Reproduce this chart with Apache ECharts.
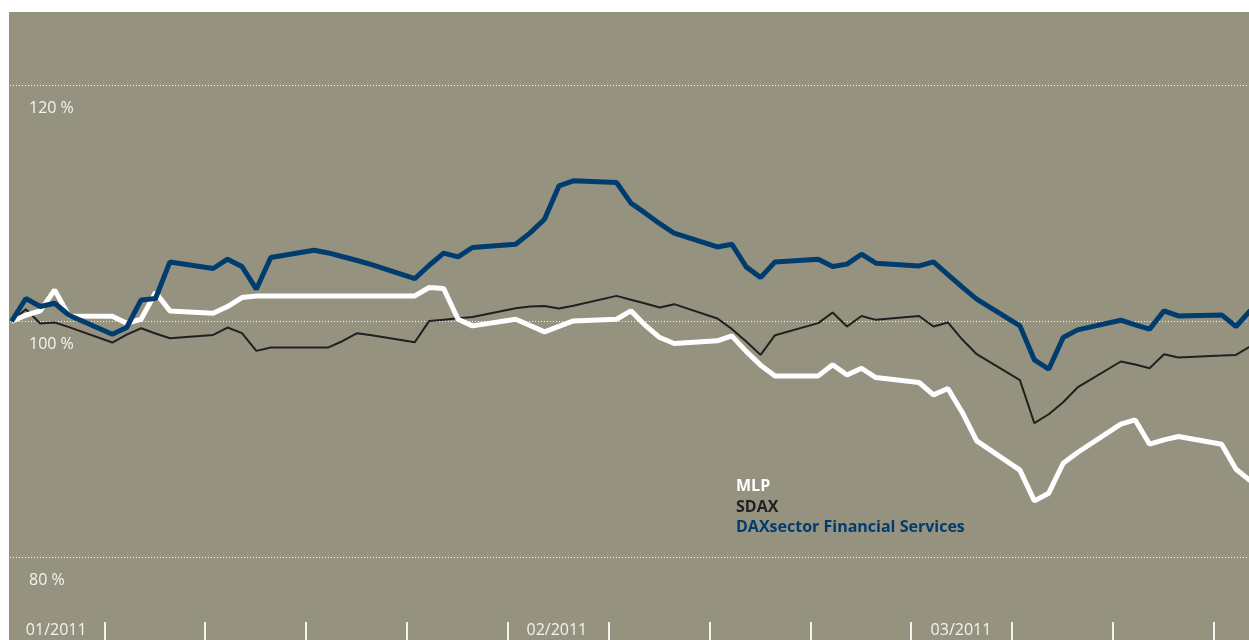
<!DOCTYPE html>
<html>
<head>
<meta charset="utf-8">
<title>MLP vs SDAX vs DAXsector Financial Services</title>
<script src="https://cdn.jsdelivr.net/npm/echarts@6/dist/echarts.min.js"></script>
<style>
  html, body { margin: 0; padding: 0; background: #ffffff; }
  #main { position: absolute; left: 9px; top: 12px; width: 1240px; height: 628px; background: #969280; }
</style>
</head>
<body>
<div id="main"></div>
<script>
// trading days, counted from 1 Jan 2011 = 1 (27 Dec 2010 = -4)
var tradingDays = [
  -4, -3, -2, -1, 0,
  3, 4, 5, 6, 7, 10, 11, 12, 13, 14, 17, 18, 19, 20, 21, 24, 25, 26, 27, 28, 31,
  32, 33, 34, 35, 38, 39, 40, 41, 42, 45, 46, 47, 48, 49, 52, 53, 54, 55, 56, 59,
  60, 61, 62, 63, 66, 67, 68, 69, 70, 73, 74, 75, 76, 77, 80, 81, 82
];

var mlp = [
  100, 100.53, 100.90, 102.68, 100.47,
  100.45, 99.86, 100.19, 102.46, 100.90, 100.70, 101.27, 102.03, 102.17, 102.17,
  102.17, 102.17, 102.17, 102.17, 102.17, 102.17, 102.88, 102.80, 100.19, 99.63, 100.19,
  99.66, 99.12, 99.58, 100.05, 100.19, 100.90, 99.67, 98.64, 98.14,
  98.36, 98.78, 97.47, 96.30, 95.39, 95.39, 96.34, 95.47, 96.04, 95.25, 94.83,
  93.78, 94.32, 92.29, 89.88, 87.40, 84.80, 85.45, 87.99, 88.90,
  91.30, 91.66, 89.60, 89.97, 90.25, 89.60, 87.48, 86.50
];

var sdax = [
  100, 101.04, 99.83, 99.92, 99.52,
  98.22, 98.89, 99.43, 98.98, 98.58, 98.86, 99.49, 99.01, 97.51, 97.80,
  97.80, 97.80, 98.35, 99.01, 98.83, 98.25, 100.05, 100.15, 100.27, 100.39, 101.13,
  101.27, 101.32, 101.10, 101.33, 102.17, 101.85, 101.52, 101.19, 101.47,
  100.25, 99.37, 98.31, 97.17, 98.84, 99.86, 100.76, 99.58, 100.47, 100.14, 100.47,
  99.58, 99.92, 98.47, 97.23, 95.03, 91.38, 92.14, 93.16, 94.41,
  96.61, 96.35, 96.04, 97.23, 96.95, 97.11, 97.17, 97.90
];

var daxFin = [
  100, 101.95, 101.27, 101.55, 100.53,
  98.92, 99.49, 101.83, 101.95, 105.05, 104.49, 105.28, 104.66, 102.74, 105.42,
  106.04, 105.81, 105.49, 105.17, 104.82, 103.64, 104.77, 105.79, 105.47, 106.27, 106.55,
  107.51, 108.67, 111.49, 111.92, 111.78, 110.03, 109.18, 108.29, 107.48,
  106.32, 106.55, 104.63, 103.73, 105.05, 105.28, 104.66, 104.86, 105.70, 104.94, 104.71,
  105.05, 103.98, 102.91, 101.89, 99.63, 96.75, 95.96, 98.64, 99.29,
  100.11, 99.71, 99.35, 100.90, 100.47, 100.56, 99.58, 100.94
];

// week separators and month labels on the day scale
var weekTicks = [2.45, 9.45, 16.45, 23.45, 30.45, 37.45, 44.45, 51.45, 58.45, 65.45, 72.45, 79.45];
var monthLabelDays = [-3, 31.75, 59.8];
var monthLabels = ['01/2011', '02/2011', '03/2011'];

var yTicks = [80, 100, 120];

function pairs(values) {
  var out = [];
  for (var i = 0; i < values.length; i++) {
    out.push([tradingDays[i], values[i]]);
  }
  return out;
}

function init() {
  var myChart = echarts.init(document.getElementById('main'));

  var option = {
    animation: false,
    grid: {
      left: 1,
      right: 0,
      top: 73.5,
      bottom: 82.5
    },
    legend: {
      orient: 'vertical',
      left: 722,
      top: 464,
      padding: 0,
      icon: 'none',
      itemWidth: 0,
      itemHeight: 20.7,
      itemGap: 0,
      selectedMode: false,
      textStyle: {
        fontFamily: 'Open Sans',
        fontWeight: 'bold',
        fontSize: 16,
        lineHeight: 20.7
      },
      data: [
        { name: 'MLP', textStyle: { color: '#ffffff' } },
        { name: 'SDAX', textStyle: { color: '#231f20' } },
        { name: 'DAXsector Financial Services', textStyle: { color: '#003d6e' } }
      ]
    },
    xAxis: {
      type: 'value',
      min: -4.1,
      max: 81.9,
      offset: 64.5,
      axisLine: { show: false },
      splitLine: { show: false },
      axisTick: {
        show: true,
        customValues: weekTicks,
        length: 24,
        lineStyle: { color: '#f4f3ee', width: 2 }
      },
      axisLabel: {
        customValues: monthLabelDays,
        align: 'left',
        margin: 0,
        color: '#f4f3ee',
        fontFamily: 'Open Sans',
        fontSize: 16,
        formatter: function (value) {
          for (var i = 0; i < monthLabelDays.length; i++) {
            if (Math.abs(monthLabelDays[i] - value) < 0.01) return monthLabels[i];
          }
          return '';
        }
      }
    },
    yAxis: {
      type: 'value',
      min: 80,
      max: 120,
      interval: 20,
      axisLine: { show: false },
      axisTick: { show: false },
      splitLine: {
        show: true,
        lineStyle: { color: 'rgba(255,255,255,0.9)', type: [1, 2], width: 1 }
      },
      axisLabel: {
        inside: true,
        margin: 19,
        align: 'left',
        verticalAlign: 'top',
        lineHeight: 16,
        padding: [15, 0, 0, 0],
        color: '#f4f3ee',
        fontFamily: 'Open Sans',
        fontSize: 16,
        formatter: function (v) {
          return yTicks.indexOf(v) >= 0 ? v + ' %' : '';
        }
      }
    },
    series: [
      {
        name: 'SDAX',
        type: 'line',
        data: pairs(sdax),
        showSymbol: false,
        symbol: 'none',
        lineStyle: { color: '#231f20', width: 2 },
        itemStyle: { color: '#231f20' }
      },
      {
        name: 'MLP',
        type: 'line',
        data: pairs(mlp),
        showSymbol: false,
        symbol: 'none',
        lineStyle: { color: '#ffffff', width: 5 },
        itemStyle: { color: '#ffffff' }
      },
      {
        name: 'DAXsector Financial Services',
        type: 'line',
        data: pairs(daxFin),
        showSymbol: false,
        symbol: 'none',
        lineStyle: { color: '#003d6e', width: 5 },
        itemStyle: { color: '#003d6e' }
      }
    ]
  };

  myChart.setOption(option);
}

init();
</script>
</body>
</html>
